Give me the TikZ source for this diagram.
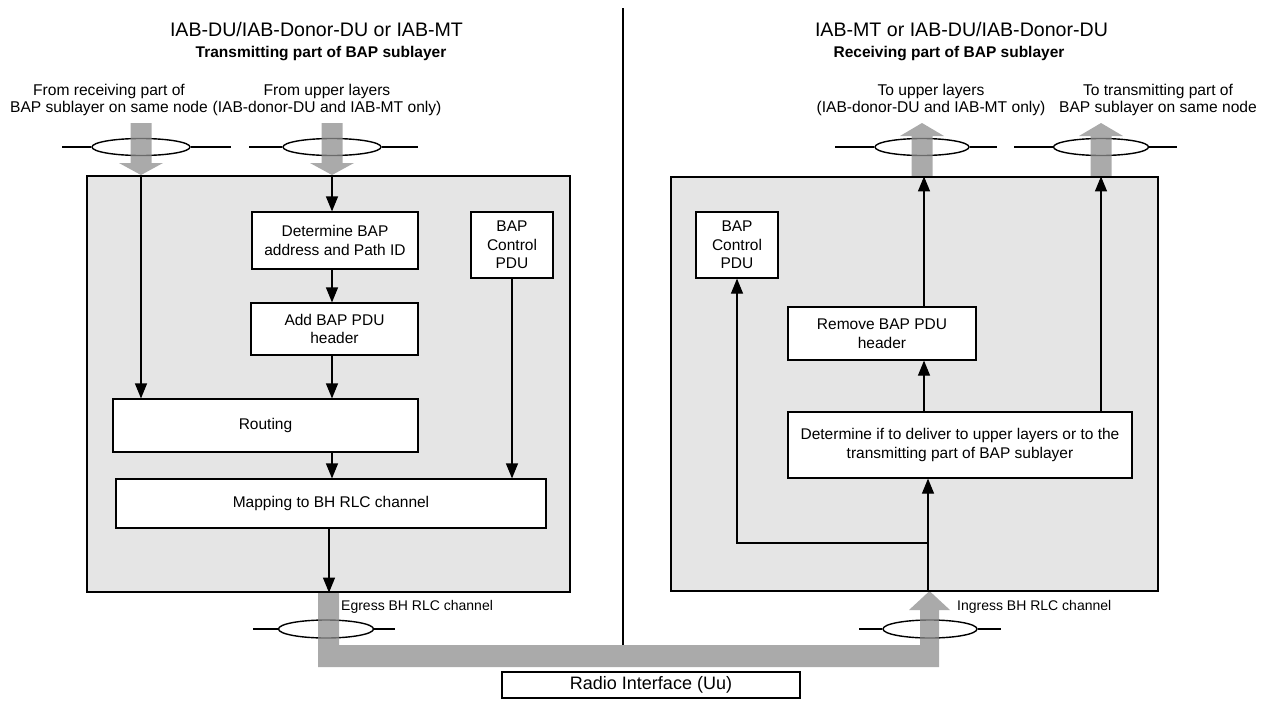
\documentclass[tikz,border=0pt]{standalone}
\usepackage{fontspec}
\setmainfont{Liberation Sans}
\usetikzlibrary{arrows.meta,shapes.geometric}
\definecolor{boxgray}{RGB}{229,229,229}
\definecolor{arrowgray}{RGB}{142,142,142}
\newcommand{\bapdown}[3]{%
  \fill[fatgray] ({#1-10.5},{#2}) -- ({#1+10.5},{#2}) -- ({#1+10.5},{#3-12}) -- ({#1+22},{#3-12}) -- ({#1},{#3}) -- ({#1-22},{#3-12}) -- ({#1-10.5},{#3-12}) -- cycle;}
\newcommand{\bapup}[3]{%
  \fill[fatgray] ({#1-10.5},{#2}) -- ({#1+10.5},{#2}) -- ({#1+10.5},{#3+13}) -- ({#1+22},{#3+13}) -- ({#1},{#3}) -- ({#1-22},{#3+13}) -- ({#1-10.5},{#3+13}) -- cycle;}
\begin{document}
\begin{tikzpicture}[x=1pt,y=-1pt,
  ln/.style={line width=1.2pt},
  arr/.style={line width=1.2pt,-{Triangle[length=15pt,width=12pt]}},
  fatgray/.style={fill=arrowgray,fill opacity=0.75},
  outer/.style={draw,line width=1.2pt,fill=boxgray,inner sep=0pt},
  proc/.style={draw,line width=1.2pt,fill=white,align=center,inner sep=0pt,font=\fontsize{15.5}{18.5}\selectfont},
  chan/.style={ellipse,draw,line width=1.4pt,minimum width=96pt,minimum height=17pt,inner sep=0pt},
  lbl/.style={align=center,inner sep=0pt,font=\fontsize{15.6}{17}\selectfont},
  chlbl/.style={inner sep=0pt,anchor=west,font=\fontsize{14}{17}\selectfont},
  ttl/.style={inner sep=0pt,anchor=base,font=\fontsize{19.6}{22}\selectfont},
  subttl/.style={inner sep=0pt,anchor=base,font=\fontsize{15.5}{18}\selectfont\bfseries},
]
\useasboundingbox (0,0) rectangle (1264,702);

% divider
\coordinate (divtop) at (623,8);
\coordinate (divbot) at (623,645);
\draw[ln] (divtop) -- (divbot);

% titles
\node[ttl] (tl) at (316.5,36) {IAB-DU/IAB-Donor-DU or IAB-MT};
\node[subttl] (stl) at (321,57) {Transmitting part of BAP sublayer};
\node[ttl] (tr) at (961.5,36) {IAB-MT or IAB-DU/IAB-Donor-DU};
\node[subttl] (str) at (949,57) {Receiving part of BAP sublayer};

% labels
\node[lbl] (l1) at (109,100) {From receiving part of\\BAP sublayer on same node};
\node[lbl] (l2) at (327,100) {From upper layers\\(IAB-donor-DU and IAB-MT only)};
\node[lbl] (r1) at (931,100) {To upper layers\\(IAB-donor-DU and IAB-MT only)};
\node[lbl] (r2) at (1158,100) {To transmitting part of\\BAP sublayer on same node};

% channel ellipses
\node[chan,minimum width=98pt] (e1) at (141,147) {};
\node[chan,minimum width=98pt] (e2) at (332,147) {};
\node[chan,minimum width=94pt] (e3) at (922,147) {};
\node[chan,minimum width=95pt] (e4) at (1101,147) {};
\node[chan,minimum width=95pt,minimum height=18pt] (eg) at (326,629) {};
\node[chan,minimum width=94pt,minimum height=18pt] (ig) at (930,629) {};
\coordinate (e1a) at (62,147);  \coordinate (e1b) at (231,147);
\coordinate (e2a) at (249,147); \coordinate (e2b) at (418,147);
\coordinate (e3a) at (835,147); \coordinate (e3b) at (997,147);
\coordinate (e4a) at (1014,147);\coordinate (e4b) at (1177,147);
\coordinate (ega) at (253,629); \coordinate (egb) at (395,629);
\coordinate (iga) at (859,629); \coordinate (igb) at (1001,629);
\draw[ln] (e1a) -- (e1.west) (e1.east) -- (e1b);
\draw[ln] (e2a) -- (e2.west) (e2.east) -- (e2b);
\draw[ln] (e3a) -- (e3.west) (e3.east) -- (e3b);
\draw[ln] (e4a) -- (e4.west) (e4.east) -- (e4b);
\draw[ln] (ega) -- (eg.west) (eg.east) -- (egb);
\draw[ln] (iga) -- (ig.west) (ig.east) -- (igb);

% fat gray arrows
\bapdown{141}{123}{175}
\bapdown{332}{123}{175}
\bapup{922}{177}{123}
\bapup{1101}{177}{123}
\fill[fatgray] (318,592) -- (339,592) -- (339,645) -- (920,645) -- (920,610) -- (909,610) -- (929.5,591) -- (950,610) -- (939,610) -- (939,667) -- (318,667) -- cycle;

% outer boxes
\node[outer,minimum width=483pt,minimum height=416pt] (lbox) at (328.5,384) {};
\node[outer,minimum width=487pt,minimum height=414pt] (rbox) at (914.5,384) {};

% left processes
\node[proc,minimum width=166pt,minimum height=57pt] (det) at (335,240.5) {Determine BAP\\address and Path ID};
\node[proc,minimum width=82pt,minimum height=66pt] (ctrlL) at (512,245) {BAP\\Control\\PDU};
\node[proc,minimum width=167pt,minimum height=52pt] (add) at (334.5,329) {Add BAP PDU\\header};
\node[proc,minimum width=305pt,minimum height=53pt] (rout) at (265.5,425.5) {Routing};
\node[proc,minimum width=430pt,minimum height=49pt] (map) at (331,503.5) {Mapping to BH RLC channel};

% right processes
\node[proc,minimum width=82pt,minimum height=66pt] (ctrlR) at (737,245) {BAP\\Control\\PDU};
\node[proc,minimum width=188pt,minimum height=53pt] (rem) at (882,333.5) {Remove BAP PDU\\header};
\node[proc,minimum width=344pt,minimum height=66pt] (detR) at (960,445) {Determine if to deliver to upper layers or to the\\transmitting part of BAP sublayer};

% left connectors
\draw[arr] (lbox.north -| e1) -- (rout.north -| e1);
\draw[arr] (lbox.north -| e2) -- (det.north -| e2);
\draw[arr] (det.south -| e2) -- (add.north -| e2);
\draw[arr] (add.south -| e2) -- (rout.north -| e2);
\draw[arr] (rout.south -| e2) -- (map.north -| e2);
\draw[arr] (ctrlL.south) -- (map.north -| ctrlL.south);
\coordinate (egx) at (329,0);
\draw[arr] (map.south -| egx) -- (lbox.south -| egx);

% right connectors
\coordinate (inx) at (928,0);
\coordinate (br) at (928,543);
\draw[arr] (rbox.south -| inx) -- (detR.south -| inx);
\draw[arr] (br) -| (ctrlR.south);
\coordinate (upx) at (924,0);
\draw[arr] (detR.north -| upx) -- (rem.south -| upx);
\draw[arr] (rem.north -| upx) -- (rbox.north -| upx);
\draw[arr] (detR.north -| e4) -- (rbox.north -| e4);

% channel labels
\node[chlbl] (egl) at (341,607) {Egress BH RLC channel};
\node[chlbl] (igl) at (957,607) {Ingress BH RLC channel};

% radio interface
\node[draw,line width=1.2pt,fill=white,inner sep=0pt,minimum width=298pt,minimum height=26pt,font=\fontsize{18}{20}\selectfont] (radio) at (651,685) {Radio Interface (Uu)};
\end{tikzpicture}
\end{document}
